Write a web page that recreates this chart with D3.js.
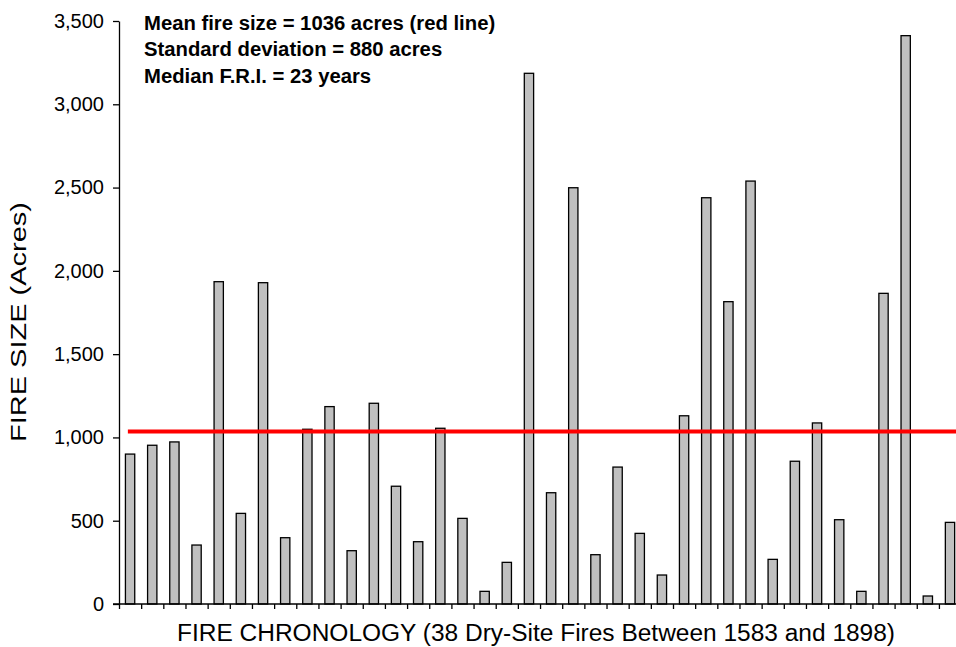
<!DOCTYPE html>
<html>
<head>
<meta charset="utf-8">
<script src="https://cdn.jsdelivr.net/npm/d3@7"></script>
<style>
  body { margin: 0; background: #fff; }
  svg { display: block; font-family: "Liberation Sans", Arial, sans-serif; }
</style>
</head>
<body>
<svg id="chart" width="956" height="647"></svg>
<script>
// fire sizes (acres), 38 dry-site fires in chronological order
var fireSizes = [900, 953, 973, 354, 1935, 544, 1929, 398, 1049, 1185,
                 320, 1205, 707, 374, 1055, 514, 76, 250, 3186, 668,
                 2499, 296, 822, 424, 174, 1130, 2439, 1815, 2539, 268,
                 857, 1087, 506, 76, 1865, 3412, 48, 490];
var meanSize = 1036;
var yTicks = [0, 500, 1000, 1500, 2000, 2500, 3000, 3500];
var notes = ["Mean fire size = 1036 acres (red line)",
             "Standard deviation = 880 acres",
             "Median F.R.I. = 23 years"];
var xTitle = "FIRE CHRONOLOGY (38 Dry-Site Fires Between 1583 and 1898)";
var yTitle = "FIRE SIZE (Acres)";

var svg = d3.select("#chart");
var plotLeft = 119, plotBottom = 604, plotTop = 21, step = 22.16;
var plotRight = plotLeft + step * fireSizes.length;

var x = d3.scaleBand()
    .domain(d3.range(fireSizes.length))
    .range([plotLeft, plotRight])
    .paddingInner(0.58)
    .paddingOuter(0.29);
var xEdge = d3.scaleLinear().domain([0, fireSizes.length]).range([plotLeft, plotRight]);
var y = d3.scaleLinear().domain([0, 3500]).range([plotBottom, plotTop]);

// bars
svg.append("g").selectAll("rect")
    .data(fireSizes)
    .enter().append("rect")
    .attr("x", (d, i) => x(i))
    .attr("y", d => y(d))
    .attr("width", x.bandwidth())
    .attr("height", d => y(0) - y(d))
    .attr("fill", "#c0c0c0")
    .attr("stroke", "#000")
    .attr("stroke-width", 1.3);

// y axis
var yAxis = svg.append("g")
    .attr("transform", "translate(" + plotLeft + ",0)")
    .call(d3.axisLeft(y).tickValues(yTicks).tickSize(6).tickSizeOuter(0).tickPadding(9)
        .tickFormat(d3.format(",")));
yAxis.selectAll("text").attr("font-size", 20).attr("fill", "#000").attr("font-family", "Liberation Sans, Arial, sans-serif");
yAxis.selectAll("line, path").attr("stroke", "#000").attr("stroke-width", 1.3);

// x axis: ticks at category boundaries
var xAxis = svg.append("g")
    .attr("transform", "translate(0," + plotBottom + ")")
    .call(d3.axisBottom(xEdge).tickValues(d3.range(fireSizes.length)).tickSize(5).tickSizeOuter(0).tickFormat(""));
xAxis.select(".domain").remove();
xAxis.selectAll("line").attr("stroke", "#000").attr("stroke-width", 1.3);
svg.append("line")
    .attr("x1", plotLeft - 6).attr("x2", plotRight)
    .attr("y1", plotBottom).attr("y2", plotBottom)
    .attr("stroke", "#000").attr("stroke-width", 1.3);

// mean line
svg.append("line")
    .attr("x1", xEdge(0.4)).attr("x2", xEdge(fireSizes.length - 0.2))
    .attr("y1", y(meanSize)).attr("y2", y(meanSize))
    .attr("stroke", "#ff0000").attr("stroke-width", 4);

// notes
svg.append("g").selectAll("text")
    .data(notes)
    .enter().append("text")
    .attr("x", 144)
    .attr("y", (d, i) => 30 + i * 26.3)
    .attr("font-size", 20.3)
    .attr("font-weight", "bold")
    .text(d => d);

// axis titles
svg.append("text")
    .attr("x", 536).attr("y", 641)
    .attr("text-anchor", "middle")
    .attr("font-size", 23)
    .attr("textLength", 718)
    .attr("lengthAdjust", "spacingAndGlyphs")
    .text(xTitle);

svg.append("text")
    .attr("transform", "translate(26,322) rotate(-90)")
    .attr("text-anchor", "middle")
    .attr("font-size", 22)
    .attr("textLength", 240)
    .attr("lengthAdjust", "spacingAndGlyphs")
    .text(yTitle);
</script>
</body>
</html>
